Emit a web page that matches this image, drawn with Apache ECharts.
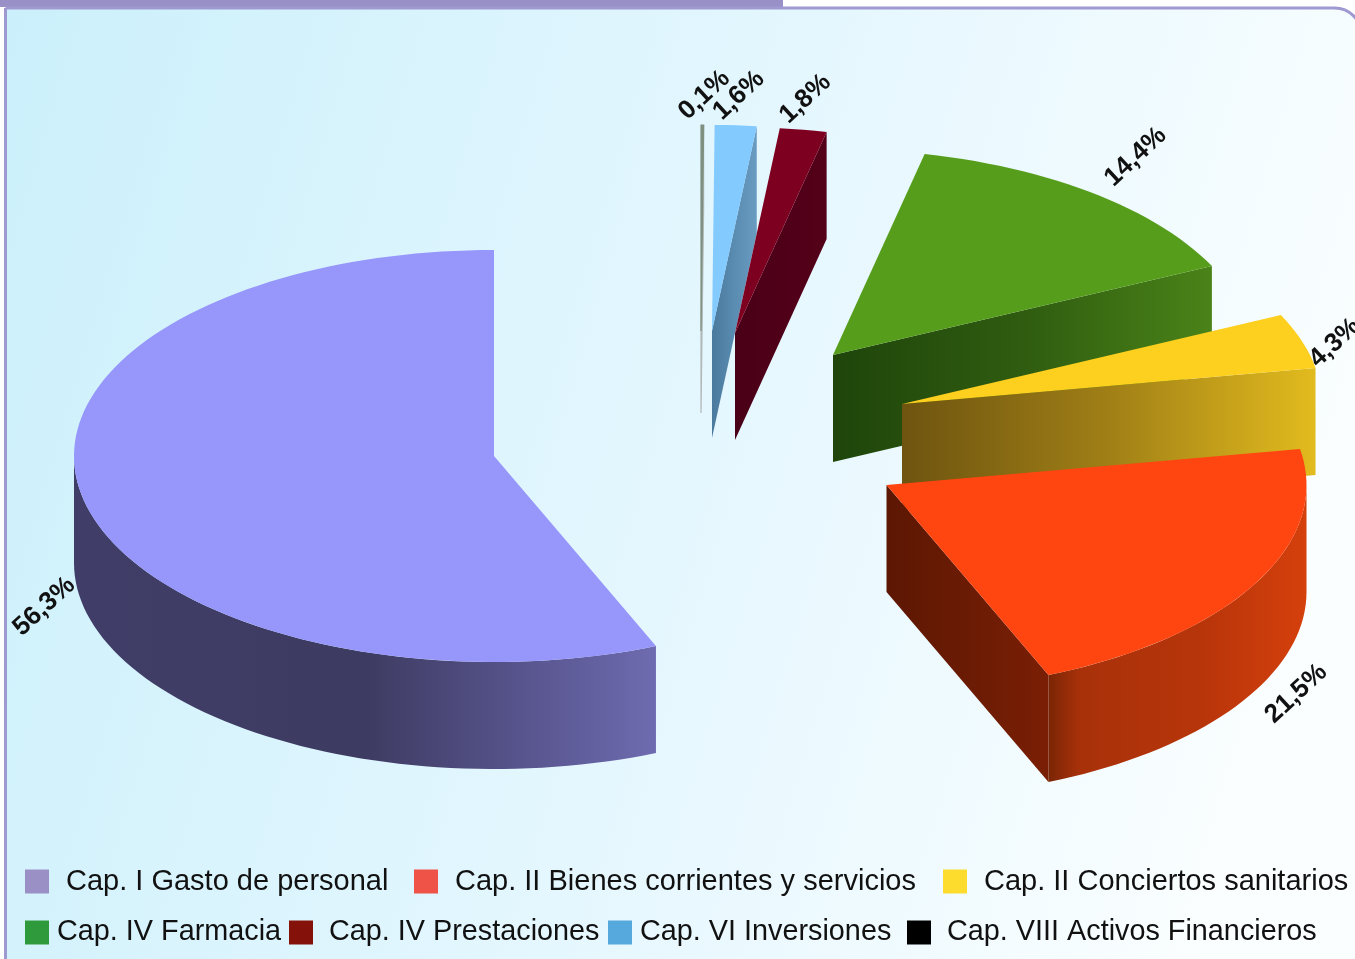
<!DOCTYPE html>
<html><head><meta charset="utf-8">
<style>html,body{margin:0;padding:0;background:#fff;overflow:hidden}#c{width:1355px;height:959px}</style>
<script src="https://cdn.jsdelivr.net/npm/echarts@6/dist/echarts.min.js"></script>
</head><body><div id="c"></div>
<script>
const categories = ['Cap. I Gasto de personal','Cap. II Bienes corrientes y servicios','Cap. II Conciertos sanitarios','Cap. IV Farmacia','Cap. IV Prestaciones','Cap. VI Inversiones','Cap. VIII Activos Financieros'];
const shares = [56.3, 21.5, 4.3, 14.4, 1.8, 1.6, 0.1];
const tickLabels = ['56,3%','21,5%','4,3%','14,4%','1,8%','1,6%','0,1%'];

// layout and styling, kept apart from the data
const CX = 494, CY = 456, RX = 420, RY = 206, DEPTH = 107;
const explode = [[0,0],[392.5,29],[408,-52],[339,-101],[241,-123],[218,-125],[207,-125]];
const depths = [DEPTH,DEPTH,DEPTH,DEPTH,DEPTH,DEPTH,82];
const paintOrder = [1,7,6,5,4,3,2];
const labelShift = [[-38,110],[41,110],[33,2],[41,-37],[2,-31],[3,-30],[2,-30]];
const topColors = ['#9696fb','#ff4510','#fdcf1e','#579d1c','#7e0021','#83caff','#7f9080'];
const hairline = [0,0,0,0,0,0,1.2];
const wallStops = [
  [[0,'#403d68'],[0.5,'#3e3b62'],[0.8,'#5a5792'],[1,'#6e6bb0']],
  [[0,'#7a2505'],[0.12,'#a8310a'],[0.6,'#b8350a'],[1,'#d5400c']],
  [[0,'#dab61e'],[1,'#dab61e']],
  [[0,'#1f450b'],[0.5,'#2f5c10'],[1,'#4a8318']],
  [[0,'#4d0018'],[1,'#4d0018']],
  [[0,'#5c8fb6'],[1,'#4a7a9e']],
  [[0,'#b0b8b8'],[1,'#b0b8b8']]
];
const cutStops = [
  [[0,'#47446f'],[1,'#47446f']],
  [[0,'#5c1703'],[1,'#7a1f05']],
  [[0,'#6e5410'],[0.5,'#a07f16'],[1,'#e2bb1e']],
  [[0,'#1f450b'],[0.5,'#2f5c10'],[1,'#4a8318']],
  [[0,'#4a0017'],[1,'#540019']],
  [[0,'#4a7a9e'],[1,'#6a9cc2']],
  [[0,'#b0b8b8'],[1,'#b0b8b8']]
];
const legendColors = ['#9b90c6','#ef5347','#fddc2e','#2f9a3c','#84120a','#55a9dc','#000000'];
const legendPos = [[25,867,17,29,3],[414,867,17,29,3],[943,867,17,29,3],[25,918,8,28.8,5],[289,918,16,28.8,5],[608,918,8,28.8,5],[907,918,16,28.8,5]];

const grad = stops => ({type:'linear',x:0,y:0,x2:1,y2:0,colorStops:stops.map(s=>({offset:s[0],color:s[1]}))});

function makeRender(i){
  return function(params, api){
    const p0 = api.value(0), p1 = api.value(1);
    const [ox, oy] = explode[i];
    const d = depths[i];
    const pt = (r, p) => {
      const c = api.coord([r, p]);
      return [c[0] + ox, CY + (c[1] - CY) * RY / RX + oy];
    };
    const arc = (a, b) => {
      const n = Math.max(2, Math.ceil(Math.abs(b - a) * 2)), out = [];
      for (let k = 0; k <= n; k++) out.push(pt(1, a + (b - a) * k / n));
      return out;
    };
    const drop = pts => pts.map(q => [q[0], q[1] + d]);
    const apex = pt(0, p0);
    const children = [];
    const wall = (pts, stops) => children.push({
      type:'polygon', shape:{points: pts.concat(drop(pts).reverse())},
      style:{fill: grad(stops), stroke: hairline[i] ? stops[0][1] : 'none', lineWidth: hairline[i]}
    });
    // outer rim facing the viewer
    const w0 = Math.max(p0, 25), w1 = Math.min(p1, 75);
    if (w1 > w0) wall(arc(w0, w1), wallStops[i]);
    // radial cut faces facing the viewer
    if (p0 > 50 && p0 < 100) wall([apex, pt(1, p0)], cutStops[i]);
    if (p1 > 0 && p1 < 50) wall([apex, pt(1, p1)], cutStops[i]);
    // top face
    children.push({type:'polygon', shape:{points:[apex].concat(arc(p0, p1))},
      style:{fill: topColors[i], stroke: hairline[i] ? topColors[i] : 'none', lineWidth: hairline[i]}});
    // value label
    const m = pt(1, (p0 + p1) / 2);
    children.push({type:'text', x: m[0] + labelShift[i][0], y: m[1] + labelShift[i][1], rotation: Math.PI / 4.2,
      style:{text: tickLabels[i], font:'bold 26px "Liberation Sans", Arial, sans-serif', fill:'#111',
             align:'center', verticalAlign:'middle'}});
    return {type:'group', children};
  };
}

let cum = 0;
const series = categories.map((name, i) => {
  const row = [cum, cum + shares[i], shares[i]];
  cum += shares[i];
  return {name, type:'custom', coordinateSystem:'polar', z: paintOrder[i], silent:true, clip:false,
    encode:{radius:2, angle:0}, data:[row], renderItem: makeRender(i), animation:false};
});

const legends = categories.map((name, i) => ({
  left: legendPos[i][0], top: legendPos[i][1], padding:0, itemWidth:24, itemHeight:24, selectedMode:false, orient:'horizontal',
  data:[{name, icon:'rect', itemStyle:{color: legendColors[i], borderWidth:0}}],
  textStyle:{fontFamily:'"Liberation Sans", Arial, sans-serif', fontSize:legendPos[i][3], color:'#111', padding:[legendPos[i][4],0,0,legendPos[i][2]-5], lineHeight:24}
}));

const chart = echarts.init(document.getElementById('c'), null, {renderer:'canvas'});
chart.setOption({
  animation:false,
  backgroundColor:'#ffffff',
  polar:{center:[CX, CY], radius:RX},
  angleAxis:{type:'value', min:0, max:100, startAngle:90, clockwise:false, show:false},
  radiusAxis:{type:'value', min:0, max:1, show:false},
  legend: legends,
  graphic:{elements:[
    {type:'rect', z:-10, silent:true, shape:{x:0,y:0,width:783,height:7}, style:{fill:'#9890c6'}},
    {type:'rect', z:-9, silent:true, shape:{x:5.5,y:8,width:1356,height:1000,r:[0,27,0,0]},
     style:{stroke:'#9f99d2', lineWidth:3,
       fill:{type:'linear',x:0,y:0,x2:1,y2:0.4,colorStops:[{offset:0,color:'#cbf0fb'},{offset:0.5,color:'#e2f6fe'},{offset:1,color:'#fafeff'}]}}}
  ]},
  series
});
</script></body></html>
